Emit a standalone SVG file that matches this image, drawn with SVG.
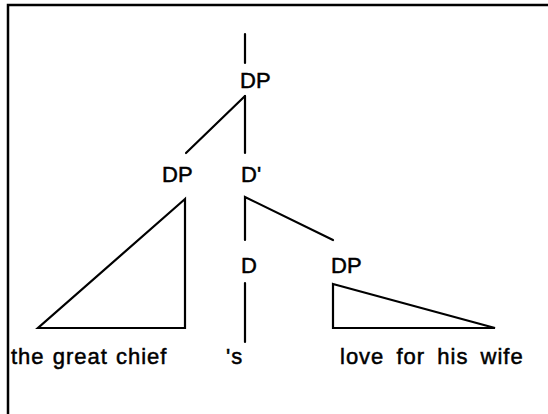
<svg xmlns="http://www.w3.org/2000/svg" width="548" height="414" viewBox="0 0 548 414">
<style>
.edge{stroke:#000;stroke-width:2.2;fill:none;stroke-linecap:round;stroke-linejoin:miter}
.lbl{font-family:"Liberation Sans",Arial,Helvetica,sans-serif;font-size:22px;fill:#000;stroke:#000;stroke-width:0.5}
.word{font-family:"Liberation Sans",Arial,Helvetica,sans-serif;font-size:22px;fill:#000;stroke:#000;stroke-width:0.5;letter-spacing:1px}
</style>
<rect width="548" height="414" fill="#fff"/>
<g id="frame">
<path d="M8,414 V5 H548" stroke="#000" stroke-width="2.5" fill="none"/>
</g>
<g id="connectors">
<line class="edge" x1="245" y1="34" x2="245" y2="63"/>
<line class="edge" x1="245" y1="96" x2="186" y2="153"/>
<line class="edge" x1="245" y1="96" x2="245" y2="153"/>
<path class="edge" d="M245,240 V197 L333,240"/>
<line class="edge" x1="245" y1="283" x2="245" y2="342"/>
</g>
<g id="node-dp-root"><text class="lbl" x="240" y="88">DP</text></g>
<g id="node-dp-spec"><text class="lbl" x="162" y="182">DP</text></g>
<g id="node-dbar"><text class="lbl" x="241" y="182">D'</text></g>
<g id="node-d"><text class="lbl" x="241" y="273">D</text></g>
<g id="node-dp-comp"><text class="lbl" x="331" y="273">DP</text></g>
<g id="tri-left"><path class="edge" d="M185,199 L38,328 H185 Z"/></g>
<g id="tri-right"><path class="edge" d="M333,284 L495,328 H333 Z"/></g>
<g id="leaf-left"><text class="word" x="11" y="364" word-spacing="1">the great chief</text></g>
<g id="leaf-s"><text class="word" x="226" y="364">'s</text></g>
<g id="leaf-right"><text class="word" x="340" y="364" word-spacing="5">love for his wife</text></g>
</svg>
